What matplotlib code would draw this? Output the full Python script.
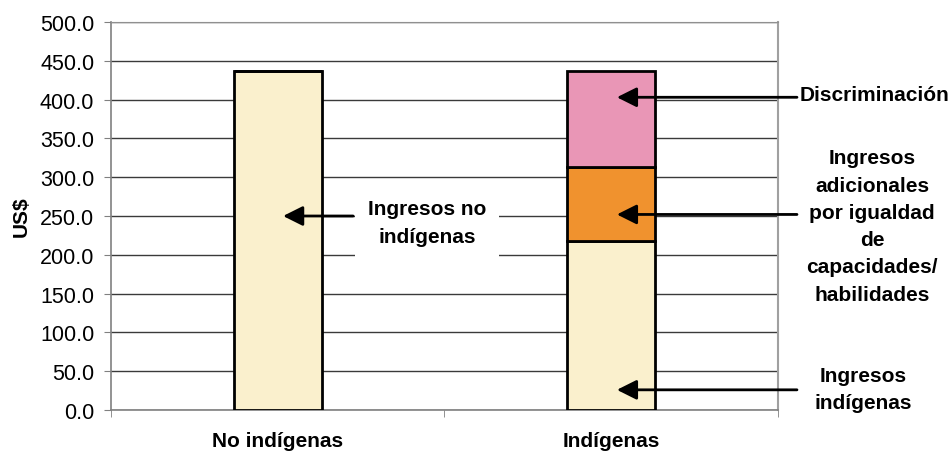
import matplotlib
matplotlib.use("Agg")
import matplotlib.pyplot as plt

# Ingresos medios (US$) por grupo y descomposicion de la brecha
categorias = ["No indígenas", "Indígenas"]
ingresos_base = [437.0, 218.0]          # ingresos (no) indigenas
ingresos_igualdad = [0.0, 95.0]          # ingresos adicionales por igualdad de capacidades
discriminacion = [0.0, 124.0]            # brecha atribuida a discriminacion
yticks = [0, 50, 100, 150, 200, 250, 300, 350, 400, 450, 500]

CREMA = "#FAF0CD"
NARANJA = "#F0922E"
ROSA = "#E996B6"

plt.rcParams["font.family"] = ["Liberation Sans", "DejaVu Sans"]

fig = plt.figure(figsize=(9.52, 4.52), dpi=100)
ax = fig.add_axes([0.1166, 0.0907, 0.7006, 0.8584])

x = list(range(len(categorias)))
ancho = 0.265
kw = dict(width=ancho, edgecolor="black", linewidth=2, zorder=3)
ax.bar(x, ingresos_base, color=CREMA, **kw)
ax.bar(x, ingresos_igualdad, bottom=ingresos_base, color=NARANJA, **kw)
tope = [a + b for a, b in zip(ingresos_base, ingresos_igualdad)]
ax.bar([1], discriminacion[1:], bottom=tope[1:], color=ROSA, **kw)

ax.set_xlim(-0.5, 1.5)
ax.set_ylim(0, 500)
ax.set_yticks(yticks)
ax.set_yticklabels([f"{v:.1f}" for v in yticks], fontsize=15.5)
ax.set_xticks(x)
ax.set_xticklabels(categorias, fontsize=15, fontweight="bold")
ax.set_xticks([-0.5, 0.5, 1.5], minor=True)
ax.tick_params(axis="x", which="major", length=0, pad=15)
ax.tick_params(axis="x", which="minor", length=5, color="#808080")
ax.tick_params(axis="y", length=5, color="#808080", pad=7)

ax.grid(axis="y", color="#3a3a3a", linewidth=1, zorder=1)
ax.set_axisbelow(True)
for lado in ["left", "bottom"]:
    ax.spines[lado].set_color("#808080")
    ax.spines[lado].set_linewidth(1.2)
ax.spines["right"].set_color("#a0a0a0")
ax.spines["right"].set_linewidth(1.5)
ax.spines["top"].set_color("#909090")

ax.set_ylabel("US$", fontsize=15, fontweight="bold")
ax.yaxis.set_label_coords(-0.12, 0.5)

flecha = dict(arrowstyle="-|>,head_length=0.8,head_width=0.4",
              color="black", lw=2, mutation_scale=15, shrinkA=0, shrinkB=0)
txt = dict(fontsize=15, fontweight="bold", clip_on=False, zorder=6)

# Ingresos no indigenas (dentro del area de grafico)
ax.annotate("", xy=(0.016, 250), xytext=(0.226, 250), arrowprops=flecha,
            zorder=6)
ax.text(0.448, 242, "Ingresos no\nindígenas", ha="center", va="center",
        linespacing=1.6,
        bbox=dict(boxstyle="square,pad=0.6", fc="white", ec="none"), **txt)

# Componentes de la barra de indigenas
ax.annotate("", xy=(1.017, 403), xytext=(1.557, 403), arrowprops=flecha,
            annotation_clip=False, zorder=6)
ax.text(1.566, 406, "Discriminación", ha="left", va="center", **txt)

ax.annotate("", xy=(1.017, 252), xytext=(1.557, 252), arrowprops=flecha,
            annotation_clip=False, zorder=6)
ax.text(1.782, 237, "Ingresos\nadicionales\npor igualdad\nde\ncapacidades/\nhabilidades",
        ha="center", va="center", linespacing=1.55, **txt)

ax.annotate("", xy=(1.017, 26), xytext=(1.557, 26), arrowprops=flecha,
            annotation_clip=False, zorder=6)
ax.text(1.755, 27, "Ingresos\nindígenas", ha="center", va="center",
        linespacing=1.55, **txt)

fig.savefig("out.png", dpi=100)
